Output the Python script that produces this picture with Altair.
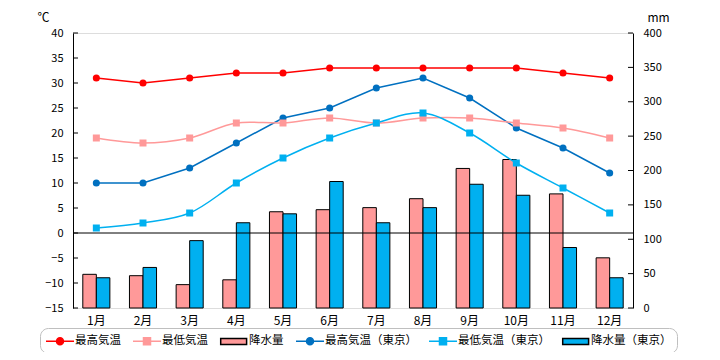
import altair as alt
import pandas as pd

months = ["1月", "2月", "3月", "4月", "5月", "6月", "7月", "8月", "9月", "10月", "11月", "12月"]
high = [31, 30, 31, 32, 32, 33, 33, 33, 33, 33, 32, 31]
low = [19, 18, 19, 22, 22, 23, 22, 23, 23, 22, 21, 19]
precip = [49, 47, 34, 41, 140, 143, 146, 159, 203, 216, 166, 73]
tokyo_high = [10, 10, 13, 18, 23, 25, 29, 31, 27, 21, 17, 12]
tokyo_low = [1, 2, 4, 10, 15, 19, 22, 24, 20, 14, 9, 4]
tokyo_precip = [44, 59, 98, 124, 137, 184, 124, 146, 180, 164, 88, 44]

temp_ticks = [-15, -10, -5, 0, 5, 10, 15, 20, 25, 30, 35, 40]
mm_ticks = [0, 50, 100, 150, 200, 250, 300, 350, 400]

S_HIGH = "最高気温"
S_LOW = "最低気温"
S_P = "降水量"
S_TH = "最高気温（東京）"
S_TL = "最低気温（東京）"
S_TP = "降水量（東京）"
series = [S_HIGH, S_LOW, S_P, S_TH, S_TL, S_TP]
fills = ["#FF0000", "#FF9999", "#FF9999", "#0070C0", "#00B0F0", "#00B0F0"]
strokes = ["#FF0000", "#FF9999", "#000000", "#0070C0", "#00B0F0", "#000000"]
P_CIRCLE = "M-1,0H3M0.5,0A0.5,0.5,0,1,0,1.5,0A0.5,0.5,0,1,0,0.5,0Z"
P_SQUARE = "M-1,0H3M0.5,-0.5H1.5V0.5H0.5Z"
P_RECT = "M-0.9,-0.43H2.8V0.43H-0.9Z"
shapes = [P_CIRCLE, P_SQUARE, P_RECT, P_CIRCLE, P_SQUARE, P_RECT]

FONT = "Noto Sans CJK JP"

rows = []
for name, vals in [(S_HIGH, high), (S_LOW, low), (S_TH, tokyo_high), (S_TL, tokyo_low)]:
    for m, v in zip(months, vals):
        rows.append({"month": m, "series": name, "value": v})
temp_df = pd.DataFrame(rows)

prows = []
for name, vals in [(S_P, precip), (S_TP, tokyo_precip)]:
    for m, v in zip(months, vals):
        prows.append({"month": m, "series": name, "value": v})
precip_df = pd.DataFrame(prows)

temp_tick_df = pd.DataFrame({"value": temp_ticks})
mm_tick_df = pd.DataFrame({"value": mm_ticks})
zero_df = pd.DataFrame({"value": [0]})

legend_def = alt.Legend(
    title=None, orient="none", legendX=-33, legendY=295,
    direction="horizontal", columns=6, symbolSize=196, symbolStrokeWidth=1.5,
    labelFont=FONT, labelFontSize=11.5, labelColor="black", columnPadding=9,
    labelOffset=14, padding=5, fillColor="white", strokeColor="#BFBFBF",
    cornerRadius=8,
)

fill_enc = alt.Fill("series:N", scale=alt.Scale(domain=series, range=fills), legend=legend_def)
stroke_enc = alt.Stroke("series:N", scale=alt.Scale(domain=series, range=strokes), legend=legend_def)
shape_enc = alt.Shape("series:N", scale=alt.Scale(domain=series, range=shapes), legend=legend_def)

x_enc = alt.X(
    "month:N", sort=months,
    scale=alt.Scale(paddingInner=0.42, paddingOuter=0.21),
    axis=alt.Axis(title=None, domain=False, ticks=False, labelAngle=0, labelPadding=7,
                  labelFontSize=12, labelFont=FONT, labelColor="black"),
)

y_temp = alt.Y(
    "value:Q",
    scale=alt.Scale(domain=[-15, 40], nice=False, zero=False),
    axis=alt.Axis(orient="left", title="℃", titleAngle=0, titleX=-30, titleY=-16,
                  titleAlign="center", titleBaseline="middle", titleFontWeight="normal",
                  titleFontSize=12, titleFont=FONT, titleColor="black",
                  tickSize=0, labelPadding=10, values=temp_ticks, grid=False,
                  domainColor="black", labelFontSize=11, labelFont=FONT, labelColor="black"),
)
y_mm = alt.Y(
    "value:Q",
    scale=alt.Scale(domain=[0, 400], nice=False, zero=True),
    axis=alt.Axis(orient="right", title="mm", titleAngle=0, titleX=25, titleY=-16,
                  titleAlign="center", titleBaseline="middle", titleFontWeight="normal",
                  titleFontSize=12, titleFont=FONT, titleColor="black",
                  tickSize=0, labelPadding=10, values=mm_ticks, grid=False,
                  domainColor="black", labelFontSize=11, labelFont=FONT, labelColor="black"),
)

temp_base = alt.Chart(temp_df)

zero_rule = alt.Chart(zero_df).mark_rule(color="black", strokeWidth=1).encode(y=y_temp)
temp_tick_rules = alt.Chart(temp_tick_df).mark_rule(color="black", strokeWidth=1).encode(
    x=alt.value(0), x2=alt.value(5), y=y_temp)

lines_straight = temp_base.mark_line(strokeWidth=1.5).encode(
    x=x_enc, y=y_temp, stroke=stroke_enc
).transform_filter(alt.FieldOneOfPredicate(field="series", oneOf=[S_HIGH, S_TH]))

lines_smooth = temp_base.mark_line(strokeWidth=1.5, interpolate="catmull-rom").encode(
    x=x_enc, y=y_temp, stroke=stroke_enc
).transform_filter(alt.FieldOneOfPredicate(field="series", oneOf=[S_LOW, S_TL]))

circles = temp_base.mark_point(shape="circle", filled=True, size=50, opacity=1).encode(
    x=x_enc, y=y_temp, fill=fill_enc
).transform_filter(alt.FieldOneOfPredicate(field="series", oneOf=[S_HIGH, S_TH]))

squares = temp_base.mark_point(shape="square", filled=True, size=49, opacity=1).encode(
    x=x_enc, y=y_temp, fill=fill_enc
).transform_filter(alt.FieldOneOfPredicate(field="series", oneOf=[S_LOW, S_TL]))

legend_shapes = temp_base.mark_point(filled=True).encode(
    x=x_enc, y=y_temp, shape=shape_enc, fill=fill_enc, stroke=stroke_enc
).transform_filter("false")

temp_layer = alt.layer(zero_rule, temp_tick_rules, lines_straight, lines_smooth,
                       circles, squares, legend_shapes)

bars = alt.Chart(precip_df).mark_bar(strokeWidth=1).encode(
    x=x_enc,
    xOffset=alt.XOffset("series:N", scale=alt.Scale(domain=[S_P, S_TP], paddingInner=0, paddingOuter=0)),
    y=y_mm, fill=fill_enc, stroke=stroke_enc,
)
mm_tick_rules = alt.Chart(mm_tick_df).mark_rule(color="black", strokeWidth=1).encode(
    x=alt.value(555), x2=alt.value(560), y=y_mm)

mm_layer = alt.layer(bars, mm_tick_rules)

chart = alt.layer(mm_layer, temp_layer).resolve_scale(y="independent").properties(
    width=560, height=275,
    autosize=alt.AutoSizeParams(type="none"),
    padding={"left": 65, "top": 25, "right": 75, "bottom": 44},
).configure_view(fill="#FFFFCC", stroke=None).configure(font=FONT)

chart.save("out.html", embed_options={"renderer": "svg", "actions": False})
